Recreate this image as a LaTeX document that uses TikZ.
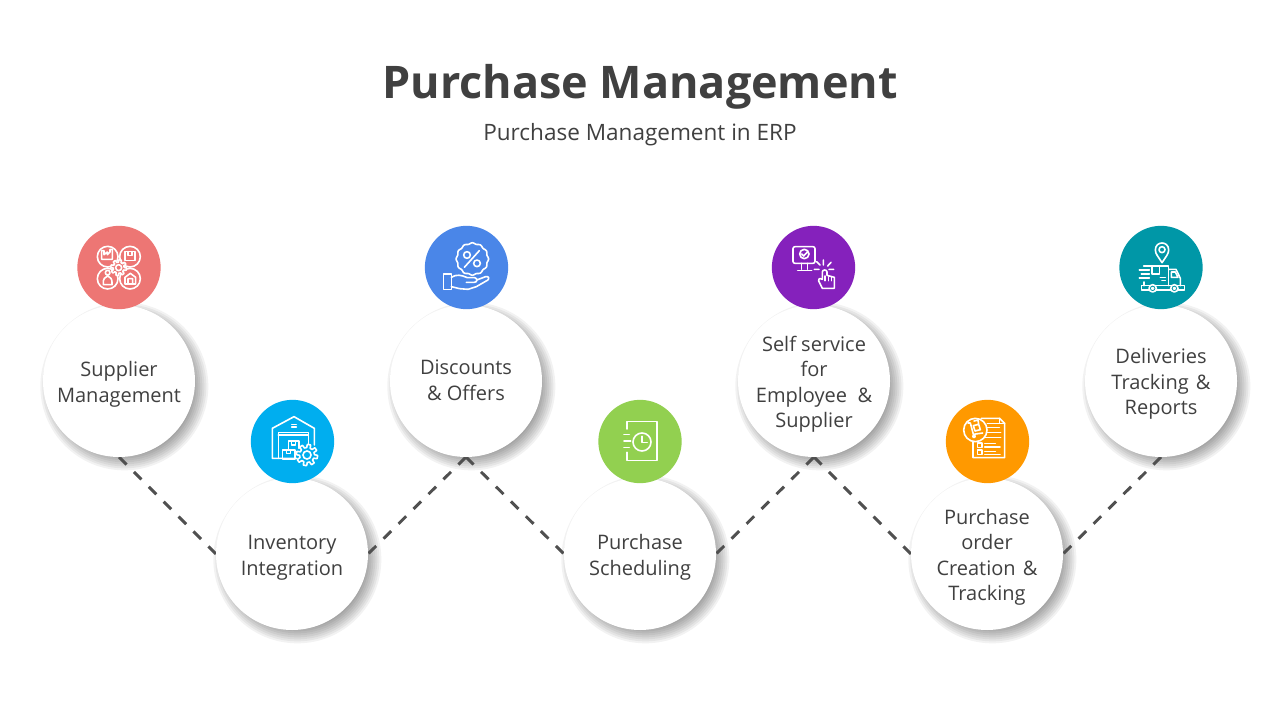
\documentclass[tikz,border=0pt]{standalone}
\usepackage{fontspec}
\setmainfont{Open Sans}
\usetikzlibrary{backgrounds}
\definecolor{ink}{HTML}{404040}
\definecolor{dashc}{HTML}{505050}
\definecolor{cRed}{HTML}{ED7674}
\definecolor{cCyan}{HTML}{00AEEF}
\definecolor{cBlue}{HTML}{4A86E8}
\definecolor{cGreen}{HTML}{92D050}
\definecolor{cPurple}{HTML}{8521BC}
\definecolor{cOrange}{HTML}{FF9900}
\definecolor{cTeal}{HTML}{0097A7}
\newcommand{\lowertext}{\rule{0pt}{16.2pt}}
\tikzset{
  bigc/.style={circle,fill=white,minimum size=114pt,inner sep=-6pt,outer sep=0pt,align=center,text=ink,
    font=\fontsize{15}{19.2}\selectfont},
  iconc/.style={circle,minimum size=62.5pt,inner sep=0pt},
  conn/.style={draw=dashc,line width=2.2pt,dash pattern=on 8pt off 7.8pt},
  ic/.style={draw=white,line width=1.2pt,line join=round,line cap=round},
  icn/.style={x=0.25pt,y=-0.25pt,ic},
}
% gear: cx cy r colour
\newcommand{\icgear}[4]{%
  \draw[ic,fill=#4,shift={(#1,#2)}] plot[domain=0:360,samples=145] (\x:{#3*(1+0.18*max(-1,min(1,3*sin(8*\x))))}) -- cycle;
  \draw[ic] (#1,#2) circle[radius=#3*0.45];}
\newcommand{\softshadow}[1]{%
  \foreach \r in {64,66,...,84}
    \fill[black,opacity=.05] ([xshift=4pt,yshift=-4pt]#1) circle[radius=\r];}
\begin{document}
\begin{tikzpicture}[x=0.75pt,y=-0.75pt]
\useasboundingbox (0,0) rectangle (1280,720);
\node[text=ink,font=\fontsize{33.7}{38}\bfseries\selectfont] (title) at (640,86.5) {Purchase Management};
\node[text=ink,font=\fontsize{16.9}{20}\selectfont] (sub) at (640,135) {Purchase Management in ERP};

\node[bigc] (b1) at (119,381) {\lowertext Supplier\\Management};
\node[bigc] (b2) at (292,554) {\lowertext Inventory\\Integration};
\node[bigc] (b3) at (466,381) {Discounts\\\&\ Offers\rule[-1.5pt]{0pt}{0pt}};
\node[bigc] (b4) at (640,554) {\lowertext Purchase\\Scheduling};
\node[bigc] (b5) at (814,381) {\lowertext Self service\\for\\Employee\ \ \&\\Supplier};
\node[bigc] (b6) at (987,554) {\lowertext Purchase\\order\\Creation\hspace{1.5pt} \&\\Tracking};
\node[bigc] (b7) at (1161,381) {\lowertext Deliveries\\Tracking\hspace{1.5pt} \&\\Reports};

\begin{scope}[on background layer]
  \fill[white] (0,0) rectangle (1280,720);
  \foreach \n in {b1,b2,b3,b4,b5,b6,b7} {\softshadow{\n.center}}
  \draw[conn] (b1.south) -- (b2.west);
  \draw[conn] (b3.south) -- (b2.east);
  \draw[conn] (b3.south) -- (b4.west);
  \draw[conn] (b5.south) -- (b4.east);
  \draw[conn] (b5.south) -- (b6.west);
  \draw[conn] (b7.south) -- (b6.east);
\end{scope}

\node[iconc,fill=cRed] (i1) at (119,267.5) {};
\node[iconc,fill=cCyan] (i2) at (292.5,441.5) {};
\node[iconc,fill=cBlue] (i3) at (466.5,267.5) {};
\node[iconc,fill=cGreen] (i4) at (640,441.5) {};
\node[iconc,fill=cPurple] (i5) at (813.5,267.5) {};
\node[iconc,fill=cOrange] (i6) at (987.5,441.5) {};
\node[iconc,fill=cTeal] (i7) at (1161,267.5) {};

% icon 1
\begin{scope}[shift={(70,220)},icn]
  \foreach \p in {(113,110),(180,110),(113,176),(180,176)} \draw \p circle[radius=31];
  \icgear{146}{143}{20}{cRed}
  \draw (95,118) -- (95,92) -- (102,92) -- (102,104) -- (112,96) -- (112,104) -- (120,96) -- (120,88) -- (127,88) -- (127,118) -- cycle;
  \draw (165,95) -- (195,95) -- (195,122) -- (165,122) -- cycle (174,95) -- (174,106) -- (186,106) -- (186,95);
  \draw (113,158) circle[radius=7] (100,194) .. controls (98,174) and (106,172) .. (113,168) .. controls (120,172) and (128,174) .. (126,194) -- cycle;
  \draw (165,192) -- (165,172) -- (181,160) -- (197,172) -- (197,192) -- cycle (174,192) -- (174,176) -- (188,176) -- (188,192);
\end{scope}
% icon 2
\begin{scope}[shift={(245,395)},icn]
  \draw (155,190) -- (82,190) -- (82,100) -- (147,65) -- (208,100) -- (208,150);
  \draw (100,190) -- (100,112) -- (190,112) -- (190,150);
  \draw (100,120) -- (190,120);
  \draw (140,88) -- (154,88) (140,96) -- (154,96);
  \draw (130,165) -- (130,138) -- (162,138) -- (162,160) (140,138) -- (140,150) -- (152,150) -- (152,138);
  \draw (112,165) -- (150,165) -- (150,192) -- (112,192) -- cycle (124,165) -- (124,176) -- (136,176) -- (136,165);
  \icgear{186}{180}{27}{cCyan}
\end{scope}
% icon 3
\begin{scope}[shift={(418,220)},icn]
  \draw[shift={(163,117)}] plot[domain=0:360,samples=121] (\x:{47*(1+0.035*cos(12*\x))}) -- cycle;
  \draw (139,142) -- (184,92);
  \draw (147,105) circle[radius=10] (177,130) circle[radius=10];
  \draw (77,162) -- (100,162) -- (100,208) -- (77,208) -- cycle;
  \draw (100,172) .. controls (115,162) and (130,165) .. (148,173) -- (170,173) .. controls (180,175) and (178,188) .. (168,187) -- (145,187);
  \draw (176,180) -- (203,170) .. controls (212,168) and (216,176) .. (208,181) -- (175,200) -- (150,208) -- (125,206) -- (100,200);
\end{scope}
% icon 4
\begin{scope}[shift={(592,395)},icn]
  \draw (105,102) -- (105,80) -- (195,80) -- (195,197) -- (105,197) -- (105,172);
  \draw (96,118) -- (112,118) (96,138) -- (116,138) (96,158) -- (112,158);
  \draw (150,141) circle[radius=27];
  \draw (150,124) -- (150,143) -- (166,143);
\end{scope}
% icon 5
\begin{scope}[shift={(765,220)},icn]
  \draw[rounded corners=1.5pt] (84,80) rectangle (150,130);
  \draw (118,102) circle[radius=14] (110,102) -- (116,108) -- (127,96);
  \draw (110,130) -- (110,148) (128,130) -- (128,148) (98,151) -- (140,151);
  \draw (155,125) -- (165,135) (148,148) -- (162,148) (175,120) -- (175,135) (198,127) -- (188,138) (192,148) -- (206,148);
  \draw (172,178) -- (172,156) .. controls (172,148) and (186,148) .. (186,156) -- (186,166) -- (208,172) -- (208,205) -- (172,205) -- (161,183) .. controls (160,174) and (168,174) .. (172,178);
  \draw (180,168) -- (180,182) (190,170) -- (190,182) (199,172) -- (199,182);
\end{scope}
% icon 6
\begin{scope}[shift={(938,395)},icn]
  \draw (130,70) -- (185,70) -- (200,85) -- (200,188) -- (105,188) -- (105,135);
  \draw (185,70) -- (185,85) -- (200,85);
  \draw (148,85) -- (184,85) (148,97) -- (184,97) (145,112) -- (188,112) (140,127) -- (188,127);
  \draw (140,145) -- (172,145) (140,156) -- (186,156) (140,170) -- (172,170) (140,178) -- (186,178);
  \draw (118,144) rectangle (132,157) (118,165) rectangle (132,178);
  \draw[fill=cOrange] (112,105) circle[radius=35];
  \draw (90,84) -- (97,84) -- (106,118) -- (134,114);
  \draw (106,92) -- (122,88) -- (127,104) -- (111,108) -- cycle (108,78) -- (120,75) -- (122,88);
  \draw (108,124) circle[radius=4];
\end{scope}
% icon 7
\begin{scope}[shift={(1112,220)},icn]
  \draw (150,128) .. controls (140,112) and (130,102) .. (130,90) .. controls (130,62) and (170,62) .. (170,90) .. controls (170,102) and (160,112) .. (150,128) -- cycle;
  \draw (150,89) circle[radius=9];
  \draw (95,138) -- (170,138) -- (170,197);
  \draw (120,138) -- (120,162) -- (142,162) -- (142,138);
  \draw (170,148) -- (192,148) -- (205,175) -- (205,197);
  \draw (178,156) -- (190,156) -- (198,172) -- (178,172) -- cycle;
  \draw (145,172) -- (160,172) (150,182) -- (160,182);
  \draw (82,150) -- (112,150) (88,162) -- (112,162) (82,174) -- (112,174) (96,186) -- (96,197);
  \draw (88,197) -- (218,197) -- (218,210) -- (88,210) -- cycle;
  \draw[fill=cTeal] (122,205) circle[radius=11] (187,205) circle[radius=11];
  \draw (122,205) circle[radius=3] (187,205) circle[radius=3];
\end{scope}
\end{tikzpicture}
\end{document}
